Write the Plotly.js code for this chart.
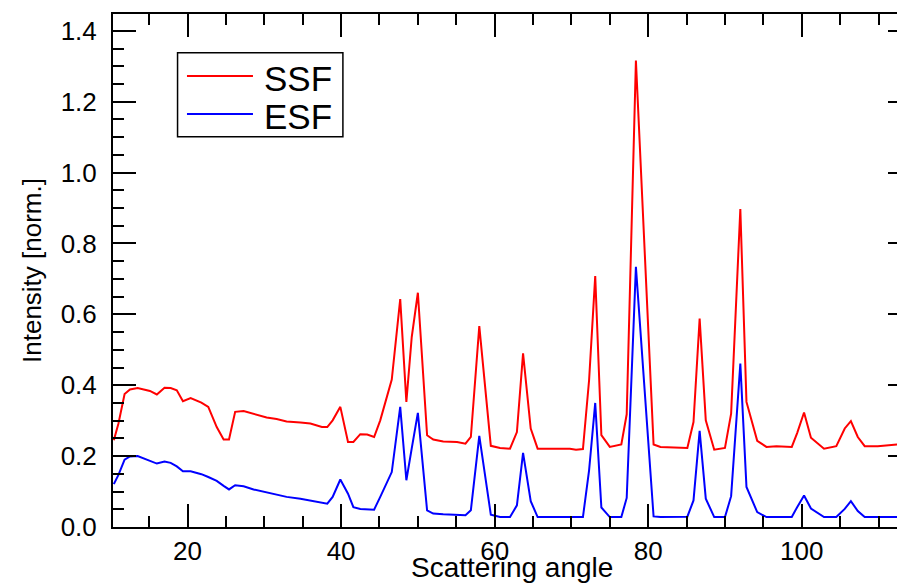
<!DOCTYPE html>
<html>
<head>
<meta charset="utf-8">
<script src="https://cdn.plot.ly/plotly-3.0.1.min.js"></script>
<style>
html,body{margin:0;padding:0;overflow:hidden;background:#fff;}
#chart{width:913px;height:585px;}
</style>
</head>
<body>
<div id="chart"></div>
<script>
// Scattering angle samples (shared by both series)
const angle = [10.4, 11.0, 11.8, 12.5, 13.5, 14.3, 15.1, 16.0, 17.0, 17.8, 18.6, 19.4, 20.4, 21.8, 22.7, 23.8, 24.7, 25.4, 26.2, 27.3,
  28.6, 30.3, 31.6, 32.9, 34.7, 36.0, 37.5, 38.2, 38.9, 39.9, 40.9, 41.6, 42.5, 43.4, 44.3, 45.1, 46.6, 47.7, 48.5, 49.2,
  50.0, 51.2, 52.0, 53.3, 55.1, 56.2, 56.9, 58.0, 59.5, 60.7, 62.0, 62.9, 63.7, 64.7, 65.6, 68.1, 69.8, 70.6, 71.5, 72.3,
  73.1, 73.9, 75.0, 76.5, 77.2, 78.4, 80.7, 81.6, 83.7, 85.1, 85.9, 86.7, 87.5, 88.6, 90.0, 90.8, 92.0, 92.8, 94.2, 95.4,
  96.7, 98.7, 99.4, 100.3, 101.2, 102.9, 104.5, 105.6, 106.4, 107.3, 108.2, 109.9, 112.4, 114.2];

const ssf = [0.245, 0.292, 0.375, 0.388, 0.392, 0.389, 0.384, 0.374, 0.393, 0.392, 0.386, 0.355, 0.364, 0.351, 0.339, 0.282, 0.247, 0.247, 0.325, 0.327,
  0.320, 0.309, 0.305, 0.298, 0.295, 0.292, 0.282, 0.282, 0.301, 0.339, 0.240, 0.240, 0.262, 0.261, 0.254, 0.301, 0.416, 0.643, 0.353, 0.536,
  0.661, 0.259, 0.247, 0.241, 0.240, 0.235, 0.254, 0.567, 0.229, 0.223, 0.221, 0.268, 0.490, 0.278, 0.221, 0.220, 0.221, 0.218, 0.220, 0.414,
  0.708, 0.259, 0.226, 0.233, 0.318, 1.316, 0.233, 0.226, 0.223, 0.223, 0.296, 0.588, 0.301, 0.218, 0.223, 0.320, 0.897, 0.353, 0.243, 0.226,
  0.228, 0.226, 0.265, 0.323, 0.252, 0.221, 0.228, 0.278, 0.299, 0.254, 0.228, 0.228, 0.233, 0.236];

const esf = [0.121, 0.147, 0.190, 0.199, 0.200, 0.193, 0.186, 0.179, 0.185, 0.181, 0.171, 0.157, 0.157, 0.149, 0.141, 0.130, 0.116, 0.106, 0.118, 0.115,
  0.106, 0.097, 0.092, 0.085, 0.080, 0.075, 0.069, 0.066, 0.085, 0.134, 0.094, 0.056, 0.051, 0.050, 0.049, 0.085, 0.155, 0.339, 0.132, 0.222,
  0.322, 0.047, 0.038, 0.036, 0.035, 0.033, 0.047, 0.257, 0.035, 0.028, 0.028, 0.061, 0.209, 0.073, 0.028, 0.028, 0.028, 0.028, 0.028, 0.160,
  0.350, 0.055, 0.028, 0.028, 0.082, 0.734, 0.030, 0.028, 0.028, 0.029, 0.075, 0.271, 0.080, 0.028, 0.028, 0.087, 0.461, 0.113, 0.042, 0.028,
  0.028, 0.028, 0.056, 0.089, 0.052, 0.028, 0.028, 0.051, 0.073, 0.045, 0.028, 0.028, 0.028, 0.028];

const seriesNames = ["SSF", "ESF"];
const seriesColors = ["#ff0000", "#0000ff"];
const xTitle = "Scattering angle";
const yTitle = "Intensity [norm.]";

const FONT = "Liberation Sans, Arial, Helvetica, sans-serif";

const traces = [
  {x: angle, y: ssf, name: seriesNames[0], type: "scatter", mode: "lines",
   line: {color: seriesColors[0], width: 2}, showlegend: false},
  {x: angle, y: esf, name: seriesNames[1], type: "scatter", mode: "lines",
   line: {color: seriesColors[1], width: 2}, showlegend: false}
];

const axisCommon = {
  showline: true, linecolor: "#000", linewidth: 2, mirror: "ticks",
  ticks: "inside", ticklen: 23, tickwidth: 2, tickcolor: "#000",
  showgrid: false, zeroline: false,
  tickfont: {family: FONT, size: 26, color: "#000"}
};

// custom legend box (paper coordinates)
const legBox = {x0: 0.0809, x1: 0.2881, y0: 0.7607, y1: 0.9245};
const legRows = [0.8791, 0.8050];
const shapes = [
  {type: "rect", xref: "paper", yref: "paper", x0: legBox.x0, x1: legBox.x1, y0: legBox.y0, y1: legBox.y1,
   line: {color: "#000", width: 1.5}, fillcolor: "rgba(0,0,0,0)"}
];
const annotations = [];
seriesNames.forEach((n, i) => {
  shapes.push({type: "line", xref: "paper", yref: "paper", x0: 0.0927, x1: 0.1754, y0: legRows[i], y1: legRows[i],
    line: {color: seriesColors[i], width: 2}});
  annotations.push({xref: "paper", yref: "paper", x: 0.1867, y: legRows[i] - 0.004, xanchor: "left", yanchor: "middle",
    text: n, showarrow: false, font: {family: FONT, size: 35, color: "#000"}});
});
// x-axis title placed below the tick labels (as in the reference, its descenders reach the bottom edge)
annotations.push({xref: "paper", yref: "paper", x: 0.5, y: 0, xanchor: "center", yanchor: "top", yshift: -23,
  text: xTitle, showarrow: false, font: {family: FONT, size: 28, color: "#000"}});

const layout = {
  width: 913, height: 585,
  margin: {l: 113, r: 2, t: 14, b: 58},
  paper_bgcolor: "#fff", plot_bgcolor: "#fff",
  showlegend: false,
  xaxis: Object.assign({}, axisCommon, {
    range: [10.29, 114.23], dtick: 20, tick0: 0,
    minor: {dtick: 5, ticks: "inside", ticklen: 11, tickwidth: 2, tickcolor: "#000"}
  }),
  yaxis: Object.assign({}, axisCommon, {
    range: [0, 1.4475], dtick: 0.2, tick0: 0, tickformat: ".1f",
    minor: {dtick: 0.05, ticks: "inside", ticklen: 11, tickwidth: 2, tickcolor: "#000"},
    ticklabelstandoff: 9,
    title: {text: yTitle, font: {family: FONT, size: 26, color: "#000"}, standoff: 12}
  }),
  shapes: shapes,
  annotations: annotations
};

Plotly.newPlot("chart", traces, layout, {displayModeBar: false, staticPlot: true});
</script>
</body>
</html>
